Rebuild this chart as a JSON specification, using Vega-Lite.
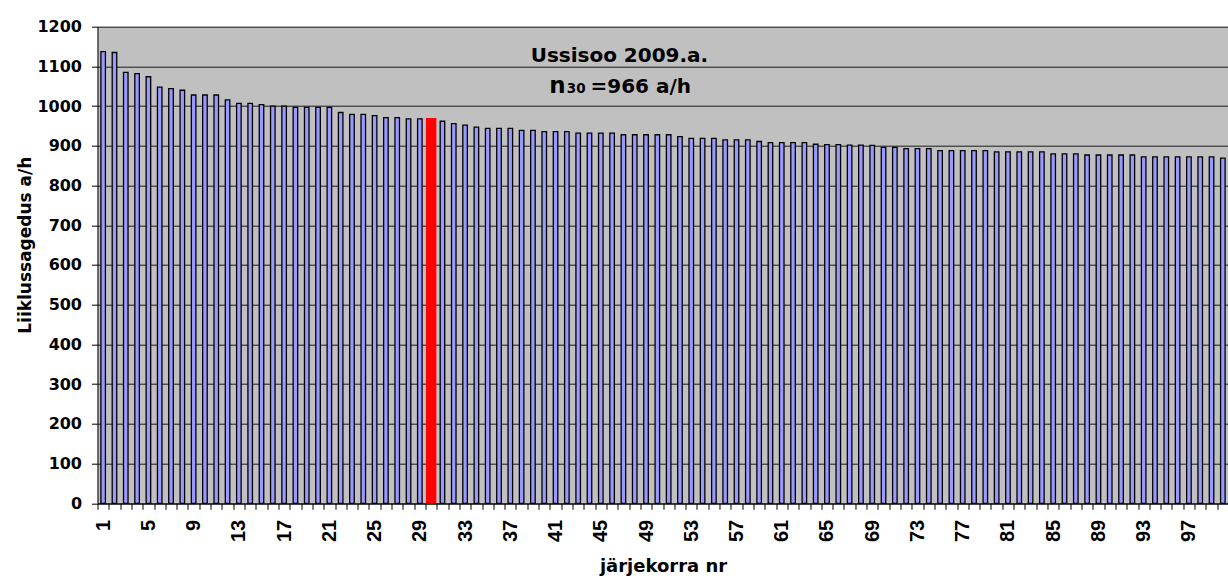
{
  "$schema": "https://vega.github.io/schema/vega-lite/v6.json",
  "width": 1131,
  "height": 476.6,
  "autosize": {"type": "none"},
  "padding": {"left": 97.5, "top": 26.7, "right": 0, "bottom": 84},
  "background": "white",
  "config": {
    "view": {"fill": "#C0C0C0", "stroke": null},
    "font": "DejaVu Sans"
  },
  "datasets": {
    "bars": [
      {"n":1,"v":1137,"s":"normal"},{"n":2,"v":1135,"s":"normal"},{"n":3,"v":1085,"s":"normal"},{"n":4,"v":1082,"s":"normal"},{"n":5,"v":1074,"s":"normal"},
      {"n":6,"v":1048,"s":"normal"},{"n":7,"v":1044,"s":"normal"},{"n":8,"v":1040,"s":"normal"},{"n":9,"v":1028,"s":"normal"},{"n":10,"v":1028,"s":"normal"},
      {"n":11,"v":1028,"s":"normal"},{"n":12,"v":1016,"s":"normal"},{"n":13,"v":1007,"s":"normal"},{"n":14,"v":1007,"s":"normal"},{"n":15,"v":1004,"s":"normal"},
      {"n":16,"v":1000,"s":"normal"},{"n":17,"v":1000,"s":"normal"},{"n":18,"v":997,"s":"normal"},{"n":19,"v":997,"s":"normal"},{"n":20,"v":997,"s":"normal"},
      {"n":21,"v":997,"s":"normal"},{"n":22,"v":984,"s":"normal"},{"n":23,"v":979,"s":"normal"},{"n":24,"v":979,"s":"normal"},{"n":25,"v":976,"s":"normal"},
      {"n":26,"v":971,"s":"normal"},{"n":27,"v":971,"s":"normal"},{"n":28,"v":968,"s":"normal"},{"n":29,"v":968,"s":"normal"},{"n":30,"v":970,"s":"n30"},
      {"n":31,"v":962,"s":"normal"},{"n":32,"v":956,"s":"normal"},{"n":33,"v":952,"s":"normal"},{"n":34,"v":947,"s":"normal"},{"n":35,"v":944,"s":"normal"},
      {"n":36,"v":944,"s":"normal"},{"n":37,"v":944,"s":"normal"},{"n":38,"v":939,"s":"normal"},{"n":39,"v":939,"s":"normal"},{"n":40,"v":936,"s":"normal"},
      {"n":41,"v":936,"s":"normal"},{"n":42,"v":936,"s":"normal"},{"n":43,"v":932,"s":"normal"},{"n":44,"v":932,"s":"normal"},{"n":45,"v":932,"s":"normal"},
      {"n":46,"v":932,"s":"normal"},{"n":47,"v":928,"s":"normal"},{"n":48,"v":928,"s":"normal"},{"n":49,"v":928,"s":"normal"},{"n":50,"v":928,"s":"normal"},
      {"n":51,"v":928,"s":"normal"},{"n":52,"v":923,"s":"normal"},{"n":53,"v":919,"s":"normal"},{"n":54,"v":919,"s":"normal"},{"n":55,"v":919,"s":"normal"},
      {"n":56,"v":915,"s":"normal"},{"n":57,"v":915,"s":"normal"},{"n":58,"v":915,"s":"normal"},{"n":59,"v":911,"s":"normal"},{"n":60,"v":908,"s":"normal"},
      {"n":61,"v":908,"s":"normal"},{"n":62,"v":908,"s":"normal"},{"n":63,"v":908,"s":"normal"},{"n":64,"v":904,"s":"normal"},{"n":65,"v":903,"s":"normal"},
      {"n":66,"v":903,"s":"normal"},{"n":67,"v":902,"s":"normal"},{"n":68,"v":902,"s":"normal"},{"n":69,"v":901,"s":"normal"},{"n":70,"v":896,"s":"normal"},
      {"n":71,"v":896,"s":"normal"},{"n":72,"v":893,"s":"normal"},{"n":73,"v":893,"s":"normal"},{"n":74,"v":893,"s":"normal"},{"n":75,"v":888,"s":"normal"},
      {"n":76,"v":888,"s":"normal"},{"n":77,"v":888,"s":"normal"},{"n":78,"v":888,"s":"normal"},{"n":79,"v":888,"s":"normal"},{"n":80,"v":885,"s":"normal"},
      {"n":81,"v":885,"s":"normal"},{"n":82,"v":885,"s":"normal"},{"n":83,"v":885,"s":"normal"},{"n":84,"v":885,"s":"normal"},{"n":85,"v":880,"s":"normal"},
      {"n":86,"v":880,"s":"normal"},{"n":87,"v":880,"s":"normal"},{"n":88,"v":877,"s":"normal"},{"n":89,"v":877,"s":"normal"},{"n":90,"v":877,"s":"normal"},
      {"n":91,"v":877,"s":"normal"},{"n":92,"v":877,"s":"normal"},{"n":93,"v":872,"s":"normal"},{"n":94,"v":872,"s":"normal"},{"n":95,"v":872,"s":"normal"},
      {"n":96,"v":872,"s":"normal"},{"n":97,"v":872,"s":"normal"},{"n":98,"v":872,"s":"normal"},{"n":99,"v":872,"s":"normal"},{"n":100,"v":869,"s":"normal"}
    ],
    "notes": [
      {"k":"a","n":47,"v":1112,"t":"Ussisoo 2009.a."},
      {"k":"b","n":41,"v":1032,"t":"n"},
      {"k":"c","n":43,"v":1032,"t":"30"},
      {"k":"d","n":44,"v":1032,"t":"=966 a/h"}
    ]
  },
  "encoding": {
    "x": {
      "field": "n", "type": "ordinal",
      "scale": {"paddingInner": 0, "paddingOuter": 0},
      "axis": {
        "title": "järjekorra nr",
        "tickBand": "extent",
        "labelAngle": -90, "labelAlign": "right", "labelBaseline": "middle",
        "labelFont": "Liberation Sans", "labelFontSize": 20, "labelFontWeight": "bold", "labelColor": "black",
        "labelExpr": "(datum.value - 1) % 4 == 0 ? datum.label : ''",
        "labelOverlap": false, "labelPadding": 10,
        "tickSize": 6, "tickColor": "black", "domainColor": "black", "domainWidth": 1,
        "grid": false,
        "titleFont": "DejaVu Sans", "titleFontSize": 18, "titleFontWeight": "bold", "titleColor": "black",
        "titleBaseline": "alphabetic", "titleY": 68.7,
        "encode": {
          "labels": {
            "update": {
              "angle": {"value": -90},
              "align": {"value": "right"},
              "baseline": {"value": "middle"}
            }
          }
        }
      }
    },
    "y": {
      "field": "v", "type": "quantitative",
      "scale": {"domain": [0, 1200], "nice": false},
      "axis": {
        "title": "Liiklussagedus a/h",
        "format": "d",
        "values": [0,100,200,300,400,500,600,700,800,900,1000,1100,1200],
        "grid": true, "gridColor": "#1a1a1a", "gridWidth": 1,
        "tickSize": 6, "tickColor": "black", "domainColor": "black", "domainWidth": 1,
        "labelFont": "DejaVu Sans", "labelFontSize": 16, "labelFontWeight": "bold", "labelColor": "black", "labelPadding": 10,
        "titleFont": "DejaVu Sans", "titleFontSize": 17, "titleFontWeight": "bold", "titleColor": "black",
        "titleX": -72, "titleY": 218, "titleAngle": -90, "titleAlign": "center", "titleBaseline": "middle"
      }
    }
  },
  "layer": [
    {
      "data": {"name": "bars"},
      "transform": [{"filter": "datum.s != 'n30'"}],
      "mark": {"type": "bar", "color": "#9999FF", "stroke": "black", "strokeWidth": 1.3, "width": {"band": 0.4}}
    },
    {
      "data": {"name": "bars"},
      "transform": [{"filter": "datum.s == 'n30'"}],
      "mark": {"type": "bar", "color": "#FF0000", "strokeWidth": 0, "width": {"band": 0.92}}
    },
    {
      "data": {"name": "notes"},
      "transform": [{"filter": "datum.k == 'a'"}],
      "mark": {"type": "text", "font": "DejaVu Sans", "fontWeight": "bold", "fontSize": 20, "align": "center", "baseline": "alphabetic", "dx": -4, "color": "black"},
      "encoding": {"text": {"field": "t"}}
    },
    {
      "data": {"name": "notes"},
      "transform": [{"filter": "datum.k == 'b'"}],
      "mark": {"type": "text", "font": "DejaVu Sans", "fontWeight": "bold", "fontSize": 23, "align": "center", "baseline": "alphabetic", "dx": 2, "color": "black"},
      "encoding": {"text": {"field": "t"}}
    },
    {
      "data": {"name": "notes"},
      "transform": [{"filter": "datum.k == 'c'"}],
      "mark": {"type": "text", "font": "DejaVu Sans", "fontWeight": "bold", "fontSize": 13.5, "align": "center", "baseline": "alphabetic", "dx": -2, "color": "black"},
      "encoding": {"text": {"field": "t"}}
    },
    {
      "data": {"name": "notes"},
      "transform": [{"filter": "datum.k == 'd'"}],
      "mark": {"type": "text", "font": "DejaVu Sans", "fontWeight": "bold", "fontSize": 20, "align": "left", "baseline": "alphabetic", "dx": 1, "color": "black"},
      "encoding": {"text": {"field": "t"}}
    }
  ]
}
